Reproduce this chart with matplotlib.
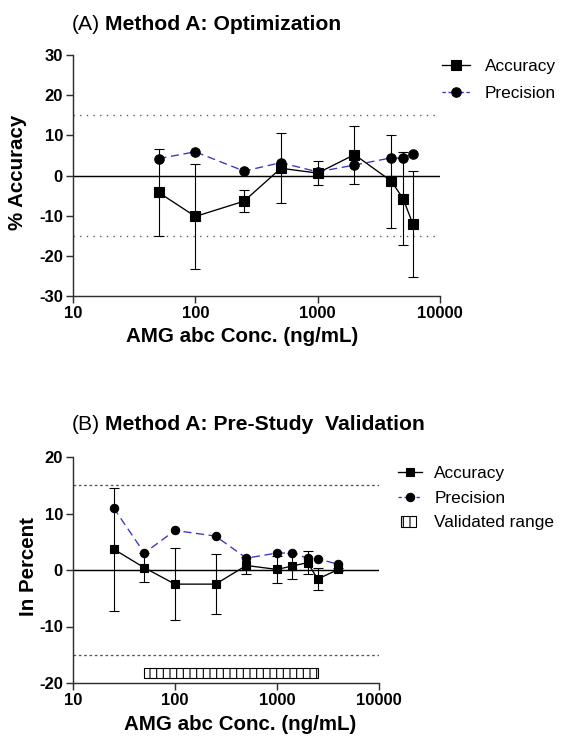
import matplotlib
matplotlib.use('Agg')
import matplotlib.pyplot as plt
from matplotlib.lines import Line2D
from matplotlib.patches import Patch, Rectangle
from matplotlib.legend_handler import HandlerPatch
from matplotlib.ticker import FixedLocator, NullLocator

plt.rcParams['font.family'] = ['Liberation Sans', 'DejaVu Sans']
plt.rcParams['hatch.linewidth'] = 1.0

# ---------------- data ----------------
# Panel A: Method A optimization
a_conc = [50, 100, 250, 500, 1000, 2000, 4000, 5000, 6000]
a_accuracy = [-4.2, -10.2, -6.4, 1.8, 0.6, 5.2, -1.4, -5.8, -12.1]
a_accuracy_sd = [10.9, 13.0, 2.8, 8.7, 2.9, 7.2, 11.6, 11.6, 13.2]
a_precision = [4.2, 5.9, 1.1, 3.2, 0.9, 2.6, 4.4, 4.3, 5.4]

# Panel B: Method A pre-study validation
b_conc = [25, 50, 100, 250, 500, 1000, 1400, 2000, 2500, 4000]
b_accuracy = [3.7, 0.4, -2.5, -2.5, 0.8, 0.1, 0.7, 1.3, -1.6, 0.1]
b_accuracy_sd = [10.9, 2.6, 6.4, 5.3, 1.5, 2.4, 2.3, 2.0, 1.9, 0.3]
b_precision = [11.0, 3.0, 7.0, 6.0, 2.1, 3.0, 3.0, 2.1, 2.0, 1.0]

validated_range = [50, 2500]
validated_y = -18.2

x_ticks = [10, 100, 1000, 10000]
x_tick_labels = ['10', '100', '1000', '10000']
a_y_ticks = [-30, -20, -10, 0, 10, 20, 30]
b_y_ticks = [-20, -10, 0, 10, 20]

legend_labels = ['Accuracy', 'Precision', 'Validated range']

# ---------------- style ----------------
DPI = 80
W, H = 566, 736
BLUE = '#3636c8'
AXC = '#303030'
TICK_FS = 15
LABEL_FS = 18.5
TITLE_FS = 19
LEG_FS = 15.5

fig = plt.figure(figsize=(W / DPI, H / DPI), dpi=DPI)


def fx(px):
    return px / W


def fy(py):
    return 1 - py / H


def style_axes(ax, yticks, ylim):
    ax.set_xscale('log')
    ax.set_xlim(10, 10000)
    ax.set_ylim(*ylim)
    for s in ('top', 'right'):
        ax.spines[s].set_visible(False)
    for s in ('left', 'bottom'):
        ax.spines[s].set_linewidth(1.3)
        ax.spines[s].set_color(AXC)
    ax.xaxis.set_major_locator(FixedLocator(x_ticks))
    ax.xaxis.set_minor_locator(NullLocator())
    ax.set_xticklabels(x_tick_labels, fontsize=TICK_FS, fontweight='bold')
    ax.set_yticks(yticks)
    ax.set_yticklabels([str(t) for t in yticks], fontsize=TICK_FS, fontweight='bold')
    ax.tick_params(direction='out', length=6, width=1.3, color=AXC, pad=3)


def draw_series(ax, conc, acc, sd, prec, ms, dotted):
    ax.axhline(0, color='black', lw=1.3, zorder=2)
    for v in (15, -15):
        ax.axhline(v, color='#555555', lw=1.2, ls=dotted, zorder=1)
    ax.plot(conc, prec, ls=(0, (6, 3.5)), color=BLUE, lw=1.2, marker='o',
            mfc='black', mec='black', ms=ms, zorder=3)
    ax.errorbar(conc, acc, yerr=sd, fmt='-s', color='black', ms=ms, lw=1.2,
                elinewidth=1.0, capsize=4.5, capthick=1.0, zorder=4)


def title(px, py, tag, text):
    t = fig.text(fx(px), fy(py), tag, fontsize=TITLE_FS, va='center', ha='left')
    fig.canvas.draw()
    plt.annotate(text, xy=(1, 0), xycoords=t, xytext=(4, 0),
                 textcoords='offset points', fontsize=TITLE_FS,
                 fontweight='bold', va='bottom', ha='left',
                 annotation_clip=False)


def small_box(legend, orig_handle, xdescent, ydescent, width, height, fontsize):
    return Rectangle((-xdescent + 0.12 * width, -ydescent + 0.05 * height),
                     0.62 * width, 0.9 * height)


# ---------------- panel A ----------------
axA = fig.add_axes([fx(73), fy(296), fx(440) - fx(73), fy(55) - fy(296)])
draw_series(axA, a_conc, a_accuracy, a_accuracy_sd, a_precision, 8.5, (0, (1, 4)))
style_axes(axA, a_y_ticks, (-30, 30))
fig.text(fx(18), fy(172), '% Accuracy', rotation=90, fontsize=LABEL_FS,
         fontweight='bold', ha='center', va='center')
fig.text(fx(242), fy(336), 'AMG abc Conc. (ng/mL)', fontsize=LABEL_FS,
         fontweight='bold', ha='center', va='center')
title(72, 24, '(A)', 'Method A: Optimization')

hA = [Line2D([], [], color='black', marker='s', ms=8.5, lw=1.2),
      Line2D([], [], color=BLUE, ls=(0, (2.5, 2)), marker='o', mfc='black',
             mec='black', ms=8.5, lw=1.2)]
fig.legend(hA, legend_labels[:2], loc='upper left',
           bbox_to_anchor=(fx(442), fy(59)), frameon=False, fontsize=LEG_FS,
           handlelength=1.6, handletextpad=0.9, labelspacing=0.7,
           borderpad=0, borderaxespad=0)

# ---------------- panel B ----------------
axB = fig.add_axes([fx(73), fy(683), fx(379) - fx(73), fy(457) - fy(683)])
draw_series(axB, b_conc, b_accuracy, b_accuracy_sd, b_precision, 7.5, (0, (2, 2)))
axB.barh(validated_y, validated_range[1] - validated_range[0],
         left=validated_range[0], height=1.8, color='white',
         edgecolor='black', hatch='||', lw=1.0, zorder=3)
style_axes(axB, b_y_ticks, (-20, 20))
fig.text(fx(28), fy(567), 'In Percent', rotation=90, fontsize=LABEL_FS,
         fontweight='bold', ha='center', va='center')
fig.text(fx(240), fy(724), 'AMG abc Conc. (ng/mL)', fontsize=LABEL_FS,
         fontweight='bold', ha='center', va='center')
title(72, 424, '(B)', 'Method A: Pre-Study  Validation')

hB = [Line2D([], [], color='black', marker='s', ms=7.5, lw=1.2),
      Line2D([], [], color=BLUE, ls=(0, (2.5, 2)), marker='o', mfc='black',
             mec='black', ms=7.5, lw=1.2),
      Patch(facecolor='white', edgecolor='black', hatch='||', lw=1.0)]
fig.legend(hB, legend_labels, loc='upper left',
           bbox_to_anchor=(fx(398), fy(466)), frameon=False, fontsize=LEG_FS,
           handlelength=1.4, handletextpad=0.7, labelspacing=0.55,
           borderpad=0, borderaxespad=0,
           handler_map={Patch: HandlerPatch(patch_func=small_box)})

fig.savefig('out.png', dpi=DPI)
